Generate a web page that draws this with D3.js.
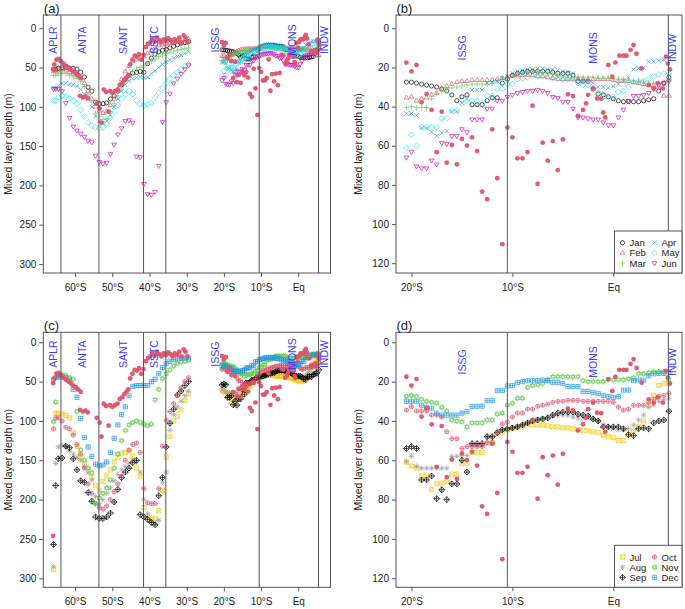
<!DOCTYPE html>
<html><head><meta http-equiv="Content-Type" content="text/html; charset=UTF-8">
<script src="https://d3js.org/d3.v7.min.js"></script>
<style>
  body { margin: 0; background: #fff; }
  svg text { font-family: "Liberation Sans", Arial, sans-serif; }
</style>
</head>
<body>
<div id="body"></div>
<script type="text/javascript">

// station latitudes (negative = south)
var latSouth = [-65.8, -65.2, -64.5, -63.5, -62.5, -61.5, -60.5, -59.5, -58.5, -57.5,
                -56.5, -55.5, -54.5, -53.5, -52.5, -51.5, -50.5, -49.5, -48.5, -47.5,
                -46.5, -45.5, -44.5, -43.5, -42.5, -41.5, -40.5, -39.5, -38.5, -37.5,
                -36.5, -35.5, -34.5, -33.5, -32.5, -31.5, -30.5, -29.5];
var latNorth = [-20.5, -20, -19.5, -19, -18.5, -18, -17.5, -17, -16.5, -16,
                -15.5, -15, -14.5, -14, -13.5, -13, -12.5, -12, -11.5, -11,
                -10.5, -10, -9.5, -9, -8.5, -8, -7.5, -7, -6.5, -6,
                -5.5, -5, -4.5, -4, -3.5, -3, -2.5, -2, -1.5, -1,
                -0.5, 0, 0.5, 1, 1.5, 2, 2.5, 3, 3.5, 4,
                4.5, 5, 5.5];

// monthly climatology mixed layer depth (m), south part then north part
var janS = [52,52,51,50,50,51,51,52,56,62, 75,80,94,96,96,95,90,86,80,72, 65,60,57,56,55,56,45,38,33,30, 28,27,25,23,21,19,18,17];
var febS = [55,55,53,52,54,56,58,60,64,70, 80,90,100,105,108,106,98,90,78,65, 55,48,42,40,38,36,32,28,25,22, 21,20,19,18,17,16,15,14];
var marS = [60,60,58,57,58,60,62,64,68,74, 84,94,108,112,116,115,106,96,86,76, 67,60,55,52,50,48,45,42,39,36, 34,32,31,29,28,27,26,25];
var aprS = [76,76,73,70,70,71,72,74,78,84, 90,100,112,118,121,118,110,100,90,80, 72,67,64,63,62,63,62,58,54,50, 46,43,40,38,36,34,32,30];
var mayS = [92,92,88,86,87,89,92,96,104,112, 120,124,126,127,126,122,114,106,98,90, 84,80,84,92,97,98,97,95,88,82, 76,70,64,60,56,52,48,46];
var junS = [77,77,77,80,95,114,125,130,134,138, 143,145,162,170,172,171,160,148,135,127, 118,117,120,163,164,198,211,212,208,175, 119,94,83,70,64,58,52,47];
var julS = [289,90,90,91,93,96,115,132,145,155, 162,172,182,188,177,170,162,152,146,141, 140,138,145,160,170,210,222,225,224,214, 188,146,120,100,94,86,74,65];
var augS = [285,154,133,131,132,138,142,146,150,158, 166,175,196,205,200,192,185,176,168,162, 158,154,150,152,165,200,218,228,230,226, 178,165,112,92,82,75,68,62];
var sepS = [257,182,148,147,132,134,148,162,176,178, 191,202,222,224,224,222,217,203,187,172, 165,160,153,150,219,222,225,229,232,195, 172,133,103,85,67,62,55,50];
var octS = [110,96,96,100,108,110,118,130,142,160, 180,192,205,210,212,208,200,190,180,170, 150,137,130,128,140,186,204,205,205,186, 132,99,88,78,68,58,50,45];
var novS = [101,76,42,41,42,45,47,88,137,150, 160,166,205,198,192,185,175,160,142,125, 112,105,102,100,102,104,106,104,73,60, 46,40,35,30,27,25,24,23];
var decS = [47,45,44,44,45,48,60,70,97,121, 133,145,155,157,156,152,140,122,105,92, 82,68,56,55,55,55,55,50,47,40, 32,27,24,22,21,20,20,20];

var janN = [27.5,27.5,28,28.5,29,29.5,30,31,32,34, 37,35,34,39,39,39,37,35.5,35.5,28, 26,24,23,22.5,22,22,22,22,22,22.5, 23,23,23,24,27,27,27,31,33.5,34, 35,36,37,37.5,37.5,37.5,37.5,37,36.5,36, 32,28,25];
var febN = [35.5,35,37,36,35.5,34,33,31,29.5,28.5, 27.5,27,27,26.5,26.5,26.5,26.5,26.5,26,25.5, 25,24.5,24,24,24,24,24.5,24.5,25,25.5, 26,26,26,26,26,26,26,26,26,26, 26,26.5,27,27,27,27.5,28,28.5,29,29, 30,34.5,34.5];
var marN = [40.5,40,40.5,40.5,40.5,36,33.5,32,31,30.5, 30,29.5,29,28.5,28.5,28.5,28.5,28,27,26, 25,24,23,22.5,22,22,22,22.5,23,23.5, 24,24.5,25,25,25,25,25,25,25.5,25.5, 25.5,25.5,26,26,26.5,27,27,27.5,28,28, 28,27.5,27];
var aprN = [43.5,43.5,44.5,51,51,53,55,53.5,52.5,42.5, 42.5,38,36,31.5,31.5,31.5,28,27.5,27,25.5, 24.5,23,22,21.5,21,21,20.5,20.5,21,21, 21.5,22,22.5,23,26,27,27,28,30,30, 30.5,29.5,28.5,27,25,21,20.5,20,17,17, 16.5,16,15];
var mayN = [61,54.5,60,50.5,50.5,50.5,50.5,46,46,42, 42,38.5,37,37,37,38.5,34.5,34.5,31,31, 28.5,28.5,26,25.5,25,24.5,24.5,24.5,25,25.5, 25.5,26,26,26,28,29,29,30.5,33,35, 36,35,32.5,32,30,27.5,27,27,26,24.5, 23.5,23,23];
var junN = [66,63,70.5,71.5,71.5,67.5,69.5,58.5,59,55, 55,51.5,53,46.5,46.5,46.5,41,41,37,37, 35,34,33,32.5,32,32,31.5,32,33,35, 35.5,37.5,37.5,41,45.5,45.5,46,46.5,46.5,48, 49.5,49.5,45.5,41.5,37,34.5,34.5,34,33,31, 29,28,27];
var julN = [61,63,64,68,68,75,72,72,71,67, 67,61.5,61.5,56,56,56,51.5,51,46.5,45.5, 44.5,44,43,42.5,42,42,42,42,42.5,43, 43,43.5,43.5,44,44.5,45,45,45.5,46,47.5, 48,48.5,50,50,47,45,43,40,32,27, 22,21,21];
var augN = [60.5,58,63,64,64,64,64,64,64,58, 58,57.5,57.5,52.5,52.5,52.5,48,48,45,44.5, 44,43.5,43,42,41,40,39,38.5,38,37.5, 37,37,37,38,38.5,38.5,38.5,39,40,42, 43,44,44.5,44.5,44,42,39.5,37,33,32, 30,29,28.5];
var sepN = [54,53,54,70,70,68,79.5,75,80,72, 72,60,66,51.5,51.5,51.5,48,48,46,44.5, 44,43.5,43,42,41,40,39.5,39,38.5,37, 36,35.5,35.5,35.5,36.5,37,37.5,39,40,43, 43,43,43,44,47,47.5,44,43.5,44,41, 40,39.5,35];
var octN = [34.5,32.7,35,35,35,37,37,38,45.5,49, 49,54,53,53,53,53,51,51,46,41.5, 40.5,38,36,36,34,34,32.5,32,31.5,30.5, 30,30,29.5,29.5,29.5,30,30,30,30,30, 30,30.5,33,34.5,34,32,32,32,30.5,29, 27.5,27,26];
var novN = [27.5,27,27.5,29,30,30.5,31,33,35,39.5, 40,40.5,43,41,41,41,39.5,39.5,36.5,36, 32,31,28.5,28.5,23,22,21.5,21,19,17.5, 17.5,17.5,17.5,17.5,17.5,19.5,20,20,20,20, 19,19,19,19,18.5,18,16,16,15.5,15, 15,15,19];
var decN = [30,30,30,32,33,33.5,36,37,37,37, 37,36,35.3,32.7,32.5,32.5,29.7,29.7,24.6,24.5, 22.2,22,20.5,20,19.5,19.5,19.5,19.2,19.5,20.5, 20.5,21,22.5,22.5,22.5,25,25,25.5,26,27, 27.6,28,27.6,24.3,24.3,19.5,19.2,19.2,17,16, 15.8,15.8,15];

// cruise observations (filled dots)
var obsLat = [-65.9,-65.6,-65.0,-64.4,-63.8,-63.1,-62.4,-61.7,-61.0,-60.5,
              -59.8,-59.2,-58.5,-58.7,-57.9,-57.2,-56.6,-54.2,-53.4,-52.9,
              -52.3,-51.7,-51.0,-50.6,-50.0,-49.3,-48.6,-48.0,-47.3,-46.8,
              -46.2,-45.7,-45.2,-44.6,-44.0,-43.4,-42.8,-42.2,-41.6,-41.0,
              -40.4,-39.8,-39.2,-38.6,-38.0,-37.4,-36.8,-36.2,-35.6,-35.0,
              -34.4,-33.8,-33.2,-32.6,-32.0,-31.4,-30.8,-30.3,-29.8,
              -20.5,-20,-19.5,-19,-18.5,-18,-17.5,-17,-16.5,-16,
              -15.5,-15,-14.5,-14,-13.5,-13,-12.5,-12,-11.5,-11,
              -10.5,-10,-9.5,-9,-8.5,-8,-7.5,-7,-6.5,-6,
              -5.5,-5,-4.5,-4,-3.5,-3,-2.7,-2.5,-2.0,-1.6,
              -1.2,-1.0,-0.8,-0.5,-0.1,0.2,0.6,1.0,1.3,1.7,
              2.0,2.3,2.8,3.5,4.0,4.4,4.9,5.2,5.4,5.6];
var obsMld = [52,46,40,39,42,45,48,50,53,55,
              57,60,63,86,88,87,89,96,102,120,
              78,81,106,80,82,80,78,72,70,66,
              63,60,46,40,35,36,33,40,34,24,
              20,18,14,17,12,15,18,14,16,13,
              15,18,14,16,12,18,9,12,18,
              17.5,22,18.7,37.8,33.5,41.7,63.3,42.6,68.6,59.6,
              69.5,56.5,59.9,55.7,62.7,83.4,87.3,51.6,76.6,110.3,
              50.7,55.7,66.4,66.4,63.3,39.5,79.5,58.4,67.6,57.6,
              72.4,56.7,33.7,34.6,44.8,41.7,38.3,34,30.7,35.8,
              36,43,45.5,18.7,24.7,17.5,14,14,14,11,
              8.5,13,20.5,29,30.7,28,30.7,14.5,18,21];
var obsExtraLat = [-65.9];   // only in (c)
var obsExtraMld = [246];

var monthNames = ["Jan","Feb","Mar","Apr","May","Jun","Jul","Aug","Sep","Oct","Nov","Dec"];
var monthPch = [1,2,3,4,5,6,7,8,9,10,11,12];
var monthCol = ["#000000","#DF536B","#61D04F","#2297E6","#28E2E5","#CD0BBC",
                "#F5C710","#9E9E9E","#000000","#DF536B","#61D04F","#2297E6"];
var southSets = [janS,febS,marS,aprS,mayS,junS,julS,augS,sepS,octS,novS,decS];
var northSets = [janN,febN,marN,aprN,mayN,junN,julN,augN,sepN,octN,novN,decN];

var boundaryLat = [-63.8, -53.6, -41.6, -35.6, -10.5, 5.45];
var regionNames = ["APLR","ANTA","SANT","SSTC","ISSG","MONS","INDW"];
var regionLatWide = [-65.9, -58.1, -47.1, -38.8, -22.4, -1.7, 6.9];
var regionLatZoom = [null, null, null, null, -15.0, -2.0, 5.8];

var xTicksWide = [-60,-50,-40,-30,-20,-10,0];
var xLabelsWide = ["60°S","50°S","40°S","30°S","20°S","10°S","Eq"];
var xTicksZoom = [-20,-10,0];
var xLabelsZoom = ["20°S","10°S","Eq"];
var yTicksWide = [0,50,100,150,200,250,300];
var yTicksZoom = [0,20,40,60,80,100,120];

var lat = latSouth.concat(latNorth);

var W = 685, H = 609;
var svg = d3.select("#body").append("svg")
    .attr("width", W).attr("height", H);
svg.append("rect").attr("width", W).attr("height", H).attr("fill", "#fff");

var panels = [
  {tag:"(a)", x0:43.3, x1:330.5, y0:15, y1:273, xd:[-68.55, 8.66], yd:[-16.9, 311.5],
   wide:true, months:[0,1,2,3,4,5], legend:false, extra:false},
  {tag:"(b)", x0:396, x1:682, y0:15, y1:273, xd:[-21.53, 6.8], yd:[-6.8, 125],
   wide:false, months:[0,1,2,3,4,5], legend:true, extra:false},
  {tag:"(c)", x0:43.3, x1:330.5, y0:332.3, y1:587.3, xd:[-68.55, 8.66], yd:[-12.7, 311.4],
   wide:true, months:[6,7,8,9,10,11], legend:false, extra:true},
  {tag:"(d)", x0:396, x1:682, y0:332.3, y1:587.3, xd:[-21.53, 6.8], yd:[-5.1, 124.6],
   wide:false, months:[6,7,8,9,10,11], legend:true, extra:false}
];

var S = 2.1;

function symbol(g, pch, x, y, col, op) {
    var s = S;
    var st = function(el) { return el.attr("fill", "none").attr("stroke", col)
        .attr("stroke-width", 1).attr("stroke-opacity", op); };
    var tri = function(dir) {
        var r = s * 1.3;
        return "M" + x + "," + (y - dir * r) + "L" + (x + r * 0.866) + "," + (y + dir * r * 0.5) +
               "L" + (x - r * 0.866) + "," + (y + dir * r * 0.5) + "Z";
    };
    var plus = function(r) { return "M" + (x - r) + "," + y + "H" + (x + r) + "M" + x + "," + (y - r) + "V" + (y + r); };
    var cross = function(r) { return "M" + (x - r) + "," + (y - r) + "L" + (x + r) + "," + (y + r) +
                                     "M" + (x - r) + "," + (y + r) + "L" + (x + r) + "," + (y - r); };
    var diamond = function(r) { return "M" + x + "," + (y - r) + "L" + (x + r) + "," + y + "L" + x + "," + (y + r) + "L" + (x - r) + "," + y + "Z"; };
    var square = function(r) { return "M" + (x - r) + "," + (y - r) + "h" + (2 * r) + "v" + (2 * r) + "h" + (-2 * r) + "Z"; };
    switch (pch) {
        case 1: st(g.append("circle").attr("cx", x).attr("cy", y).attr("r", s)); break;
        case 2: st(g.append("path").attr("d", tri(1))); break;
        case 3: st(g.append("path").attr("d", plus(s * 1.35))); break;
        case 4: st(g.append("path").attr("d", cross(s))); break;
        case 5: st(g.append("path").attr("d", diamond(s * 1.4))); break;
        case 6: st(g.append("path").attr("d", tri(-1))); break;
        case 7: st(g.append("path").attr("d", square(s) + cross(s))); break;
        case 8: st(g.append("path").attr("d", plus(s * 1.3) + cross(s))); break;
        case 9: st(g.append("path").attr("d", diamond(s * 1.4) + plus(s * 1.4))); break;
        case 10: st(g.append("circle").attr("cx", x).attr("cy", y).attr("r", s));
                 st(g.append("path").attr("d", plus(s))); break;
        case 11: st(g.append("path").attr("d", tri(1) + tri(-1))); break;
        case 12: st(g.append("path").attr("d", square(s) + plus(s))); break;
        case 16: g.append("circle").attr("cx", x).attr("cy", y).attr("r", 2.4)
                  .attr("fill", col).attr("fill-opacity", op); break;
    }
}

panels.forEach(function(p, pi) {
    var x = d3.scaleLinear().domain(p.xd).range([p.x0, p.x1]);
    var y = d3.scaleLinear().domain(p.yd).range([p.y0, p.y1]);
    var g = svg.append("g");
    var clipId = "clip" + pi;
    svg.append("clipPath").attr("id", clipId).append("rect")
        .attr("x", p.x0).attr("y", p.y0).attr("width", p.x1 - p.x0).attr("height", p.y1 - p.y0);
    var plot = g.append("g").attr("clip-path", "url(#" + clipId + ")");

    // monthly climatologies
    p.months.forEach(function(m) {
        var vals = southSets[m].concat(northSets[m]);
        vals.forEach(function(v, i) {
            if (v == null) return;
            symbol(plot, monthPch[m], x(lat[i]), y(v), monthCol[m], 0.68);
        });
    });

    // observations on top
    obsLat.forEach(function(la, i) {
        symbol(plot, 16, x(la), y(obsMld[i]), "#DF536B", 0.95);
    });
    if (p.extra) {
        obsExtraLat.forEach(function(la, i) {
            symbol(plot, 16, x(la), y(obsExtraMld[i]), "#DF536B", 0.95);
        });
    }

    // province boundaries
    plot.selectAll(null).data(boundaryLat).enter().append("line")
        .attr("x1", function(d) { return x(d); }).attr("x2", function(d) { return x(d); })
        .attr("y1", p.y0).attr("y2", p.y1)
        .attr("stroke", "#555").attr("stroke-width", 1);

    // province names
    var rl = p.wide ? regionLatWide : regionLatZoom;
    var ry = p.wide ? 15 : 10;
    regionNames.forEach(function(n, i) {
        if (rl[i] == null) return;
        plot.append("text")
            .attr("transform", "translate(" + x(rl[i]) + "," + y(ry) + ") rotate(-90)")
            .attr("text-anchor", "middle").attr("dominant-baseline", "central")
            .attr("font-size", "10.5px").attr("fill", "#3f3fff")
            .text(n);
    });

    // frame
    g.append("rect").attr("x", p.x0).attr("y", p.y0)
        .attr("width", p.x1 - p.x0).attr("height", p.y1 - p.y0)
        .attr("fill", "none").attr("stroke", "#555").attr("stroke-width", 1);

    // axes
    var xt = p.wide ? xTicksWide : xTicksZoom;
    var xl = p.wide ? xLabelsWide : xLabelsZoom;
    var xAxis = d3.axisBottom(x).tickValues(xt)
        .tickFormat(function(d, i) { return xl[i]; }).tickSize(4).tickSizeOuter(0);
    var ax = g.append("g").attr("transform", "translate(0," + p.y1 + ")").call(xAxis);
    ax.select(".domain").remove();
    ax.selectAll("line").attr("stroke", "#555");
    ax.selectAll("text").attr("font-size", "10px").attr("fill", "#222").attr("dy", "1.05em");

    var yt = p.wide ? yTicksWide : yTicksZoom;
    var yAxis = d3.axisLeft(y).tickValues(yt).tickSize(4).tickSizeOuter(0);
    var ay = g.append("g").attr("transform", "translate(" + p.x0 + ",0)").call(yAxis);
    ay.select(".domain").remove();
    ay.selectAll("line").attr("stroke", "#555");
    ay.selectAll("text").attr("font-size", "10px").attr("fill", "#222").attr("x", -7);

    g.append("text")
        .attr("transform", "translate(" + (p.wide ? 8 : 358) + "," + ((p.y0 + p.y1) / 2) + ") rotate(-90)")
        .attr("text-anchor", "middle").attr("dominant-baseline", "central")
        .attr("font-size", "10.5px").attr("fill", "#222")
        .text("Mixed layer depth (m)");

    g.append("text").attr("x", p.x0 + 0.5).attr("y", p.y0 - 2.5)
        .attr("font-size", "13px").attr("fill", "#222").text(p.tag);

    if (p.legend) {
        var bw = 67.5, bh = 42;
        var lx = p.x1 - bw, ly = p.y1 - bh;
        var lg = g.append("g");
        lg.append("rect").attr("x", lx).attr("y", ly).attr("width", bw).attr("height", bh)
            .attr("fill", "#fff").attr("stroke", "#555").attr("stroke-width", 1);
        p.months.forEach(function(m, k) {
            var col = Math.floor(k / 3), row = k % 3;
            var sx = lx + 8 + col * 32, sy = ly + 11.7 + row * 10.2;
            symbol(lg, monthPch[m], sx, sy, monthCol[m], 0.68);
            lg.append("text").attr("x", sx + 7).attr("y", sy)
                .attr("dominant-baseline", "central")
                .attr("font-size", "9.5px").attr("fill", "#222").text(monthNames[m]);
        });
    }
});

</script>
</body></html>
